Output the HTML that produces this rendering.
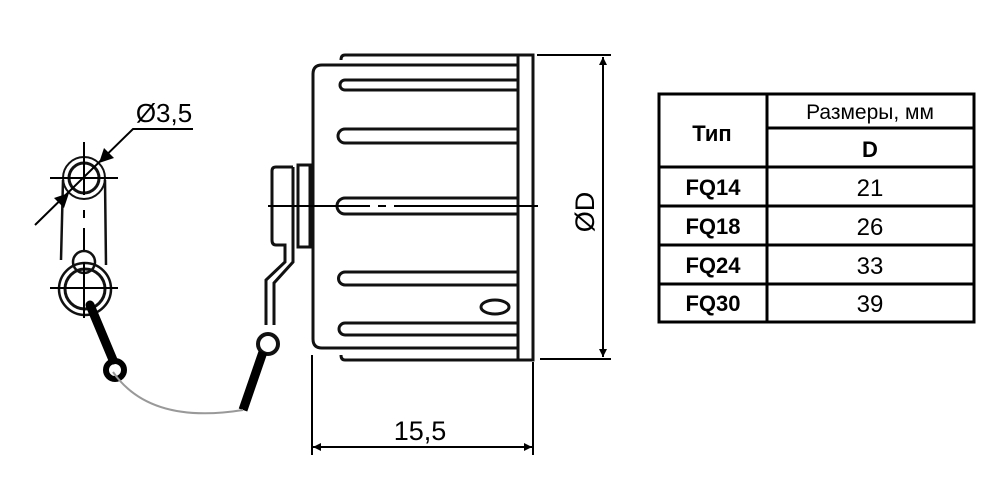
<!DOCTYPE html>
<html><head><meta charset="utf-8"><style>
html,body{margin:0;padding:0;background:#fff;}
svg{display:block;font-family:"Liberation Sans",sans-serif;}
</style></head><body>
<svg width="1000" height="500" viewBox="0 0 1000 500" xmlns="http://www.w3.org/2000/svg">
<defs>
<marker id="ar" viewBox="0 0 10 10" refX="10" refY="5" markerWidth="14" markerHeight="8" markerUnits="userSpaceOnUse" orient="auto-start-reverse"><path d="M0,0 L10,5 L0,10 z" fill="#000"/></marker>
</defs>
<g fill="none" stroke="#111" stroke-width="3">
<!-- body -->
<path d="M322,65 H518 V348 H322 Q313,348 313,339 V74 Q313,65 322,65 Z"/>
<path d="M345,55 H518 M345,360 H518"/>
<path d="M345,55 Q341,55 341,60 M345,360 Q341,360 341,355"/>
<rect x="518" y="55" width="15" height="305"/>
<!-- ribs -->
<path d="M518,80 H345 a5,5 0 0 0 0,10 H518"/>
<path d="M518,129 H345 a7,7 0 0 0 0,14 H518"/>
<path d="M518,198 H345 a8,8 0 0 0 0,16 H518"/>
<path d="M518,272 H345 a6.5,6.5 0 0 0 0,13 H518"/>
<path d="M518,323 H345 a6,6 0 0 0 0,12 H518"/>
<ellipse cx="495" cy="307" rx="14" ry="7"/>
<!-- knob -->
<path d="M293,167 H276 Q272,167 272,171 V240 Q272,245 276,245 H285 V262 L266,280 V325"/>
<path d="M293,167 V245 V262 L274,283 V325"/>
<rect x="298" y="165" width="12" height="82"/>
<circle cx="268" cy="344" r="10" stroke-width="4"/>
<!-- left lanyard -->
<circle cx="84" cy="178" r="15"/>
<circle cx="84" cy="178" r="21" stroke-width="2"/>
<path d="M63,180 L61,260 M105,180 L106,265" stroke-width="2.5"/>
<circle cx="84" cy="262" r="11" stroke-width="2.5"/>
<circle cx="85" cy="289" r="20"/>
<circle cx="85" cy="289" r="26" stroke-width="2.5"/>
</g>
<!-- black lanyard parts -->
<path d="M90,305 L113,360" stroke="#000" stroke-width="9" stroke-linecap="round"/>
<circle cx="115" cy="370" r="9" fill="none" stroke="#000" stroke-width="6"/>
<path d="M263,352 L243,410" stroke="#000" stroke-width="9"/>
<path d="M113,372 Q150,425 243,410" fill="none" stroke="#999" stroke-width="2"/>
<!-- centerlines -->
<g stroke="#000" stroke-width="2">
<path d="M268,206 H370 M378,206 H386 M394,206 H538"/>
<path d="M50,178 H118 M50,288 H118"/>
<path d="M84,142 V195 M84,210 V218 M84,228 V250 M84,262 V318"/>
</g>
<!-- dimensions -->
<g stroke="#000" stroke-width="2" fill="none">
<path d="M537,55 H611 M540,359 H611"/>
<path d="M603,57 V357" marker-start="url(#ar)" marker-end="url(#ar)"/>
<path d="M312,355 V455 M533,362 V455"/>
<path d="M313,447 H532" marker-start="url(#ar)" marker-end="url(#ar)"/>
<path d="M193,129 H133 L35,225"/>
</g>
<polygon points="99,163 104,148 114,158" fill="#000"/>
<polygon points="69,193 64,208 54,198" fill="#000"/>
<text x="420" y="440" font-size="27" text-anchor="middle">15,5</text>
<text x="164" y="122" font-size="26" text-anchor="middle">Ø3,5</text>
<text x="0" y="0" font-size="27" text-anchor="middle" transform="translate(594,212) rotate(-90)">ØD</text>
<!-- table -->
<g fill="none" stroke="#000" stroke-width="3">
<rect x="659" y="94" width="315" height="228"/>
<path d="M767,94 V322 M767,128 H974 M659,167 H974 M659,206 H974 M659,245 H974 M659,284 H974"/>
</g>
<g font-size="22" text-anchor="middle" fill="#000">
<text x="712" y="141" font-weight="bold">Тип</text>
<text x="870" y="119" font-size="21">Размеры, мм</text>
<text x="870" y="157" font-weight="bold">D</text>
<text x="713" y="195" font-weight="bold">FQ14</text>
<text x="713" y="234" font-weight="bold">FQ18</text>
<text x="713" y="273" font-weight="bold">FQ24</text>
<text x="713" y="311" font-weight="bold">FQ30</text>
<text x="870" y="196" font-size="24">21</text>
<text x="870" y="235" font-size="24">26</text>
<text x="870" y="274" font-size="24">33</text>
<text x="870" y="312" font-size="24">39</text>
</g>
</svg>
</body></html>
